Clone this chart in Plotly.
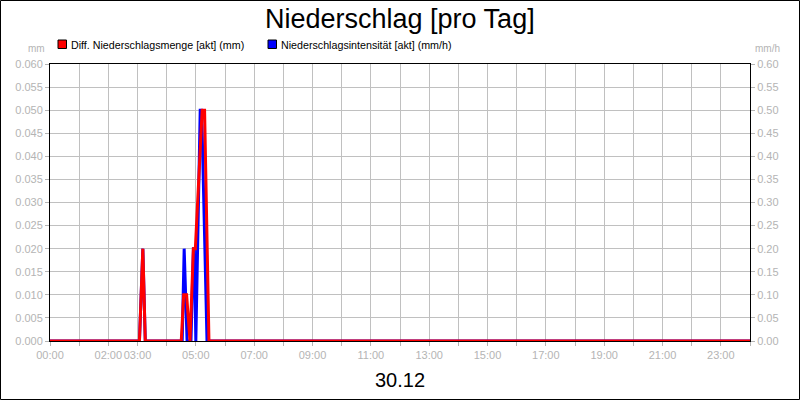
import plotly.graph_objects as go

# time in minutes since midnight
red_t = [0, 184, 191, 196, 270, 275, 281, 288, 295, 299, 313, 318, 327, 1440]
red_v = [0, 0, 0.02, 0, 0, 0.01, 0.01, 0, 0.02, 0.02, 0.05, 0.05, 0, 0]
blue_t = [0, 184, 191, 196, 272, 276, 282, 290, 295, 297, 300, 309, 312, 323, 1440]
blue_v = [0, 0, 0.2, 0, 0, 0.2, 0, 0, 0.2, 0.2, 0, 0.5, 0.5, 0, 0]

red_name = "Diff. Niederschlagsmenge [akt] (mm)"
blue_name = "Niederschlagsintensität [akt] (mm/h)"
title = "Niederschlag [pro Tag]"
date_label = "30.12"

hour_ticks = list(range(0, 1441, 60))
labeled_hours = [0, 2, 3, 5, 7, 9, 11, 13, 15, 17, 19, 21, 23]
hour_text = [f"{h // 60:02d}:00" if (h // 60) in labeled_hours else "" for h in hour_ticks]

FONT = "Liberation Sans, Arial, sans-serif"
GRAY = "#b4b4b4"

fig = go.Figure()
fig.add_trace(go.Scatter(x=blue_t, y=blue_v, mode="lines", name=blue_name,
                         line=dict(color="#0000ff", width=3), yaxis="y", showlegend=False))
fig.add_trace(go.Scatter(x=red_t, y=red_v, mode="lines", name=red_name,
                         line=dict(color="#ff0000", width=3), yaxis="y2", showlegend=False))

W, H = 800, 400
L, R, T, B = 50, 50, 64, 59
pw, ph = W - L - R, H - T - B

def px(x):
    return (x - L) / pw

def py(y):
    return (H - B - y) / ph

shapes = [
    dict(type="rect", xref="paper", yref="paper", x0=px(0.5), x1=px(799.5), y0=py(0.5), y1=py(399.5),
         line=dict(color="black", width=1), fillcolor="rgba(0,0,0,0)"),
    dict(type="rect", xref="paper", yref="paper", x0=px(58), x1=px(66.5), y0=py(40), y1=py(48.5),
         line=dict(color="black", width=1), fillcolor="#ff0000"),
    dict(type="rect", xref="paper", yref="paper", x0=px(268), x1=px(276.5), y0=py(40), y1=py(48.5),
         line=dict(color="black", width=1), fillcolor="#0000ff"),
]

annotations = [
    dict(text=title, xref="paper", yref="paper", x=0.5, y=py(19), xanchor="center", yanchor="middle",
         showarrow=False, font=dict(family=FONT, size=27, color="black")),
    dict(text=date_label, xref="paper", yref="paper", x=0.5, y=py(380), xanchor="center", yanchor="middle",
         showarrow=False, font=dict(family=FONT, size=20, color="black")),
    dict(text=red_name, xref="paper", yref="paper", x=px(68.5), y=py(44.5), xanchor="left", yanchor="middle",
         showarrow=False, font=dict(family=FONT, size=10.7, color="black")),
    dict(text=blue_name, xref="paper", yref="paper", x=px(278.5), y=py(44.5), xanchor="left", yanchor="middle",
         showarrow=False, font=dict(family=FONT, size=10.7, color="black")),
    dict(text="mm", xref="paper", yref="paper", x=px(47), y=py(48), xanchor="right", yanchor="middle",
         showarrow=False, font=dict(family=FONT, size=10, color=GRAY)),
    dict(text="mm/h", xref="paper", yref="paper", x=px(753), y=py(48), xanchor="left", yanchor="middle",
         showarrow=False, font=dict(family=FONT, size=10, color=GRAY)),
]

fig.update_layout(
    width=W, height=H,
    margin=dict(l=L, r=R, t=T, b=B),
    paper_bgcolor="white", plot_bgcolor="white",
    font=dict(family=FONT, size=11, color=GRAY),
    shapes=shapes, annotations=annotations,
    xaxis=dict(range=[0, 1440], tickvals=hour_ticks, ticktext=hour_text, tickangle=0, showgrid=True,
               gridcolor="#c0c0c0", gridwidth=1, showline=True, linecolor="black", linewidth=1,
               mirror=True, ticks="outside", ticklen=4, tickcolor=GRAY, zeroline=False,
               tickfont=dict(color=GRAY, size=11, family=FONT)),
    yaxis=dict(range=[0, 0.6], dtick=0.05, tickformat=".2f", side="right", showgrid=False,
               showline=True, linecolor="black", linewidth=1, ticks="outside", ticklen=4,
               tickcolor=GRAY, zeroline=False, tickfont=dict(color=GRAY, size=11, family=FONT)),
    yaxis2=dict(range=[0, 0.06], dtick=0.005, tickformat=".3f", side="left", overlaying="y",
                showgrid=True, gridcolor="#c0c0c0", gridwidth=1,
                showline=True, linecolor="black", linewidth=1, ticks="outside", ticklen=4,
                tickcolor=GRAY, zeroline=False, tickfont=dict(color=GRAY, size=11, family=FONT)),
)

fig.write_html("out.html", config={"displayModeBar": False},
               post_script="document.body.style.margin='0';")
